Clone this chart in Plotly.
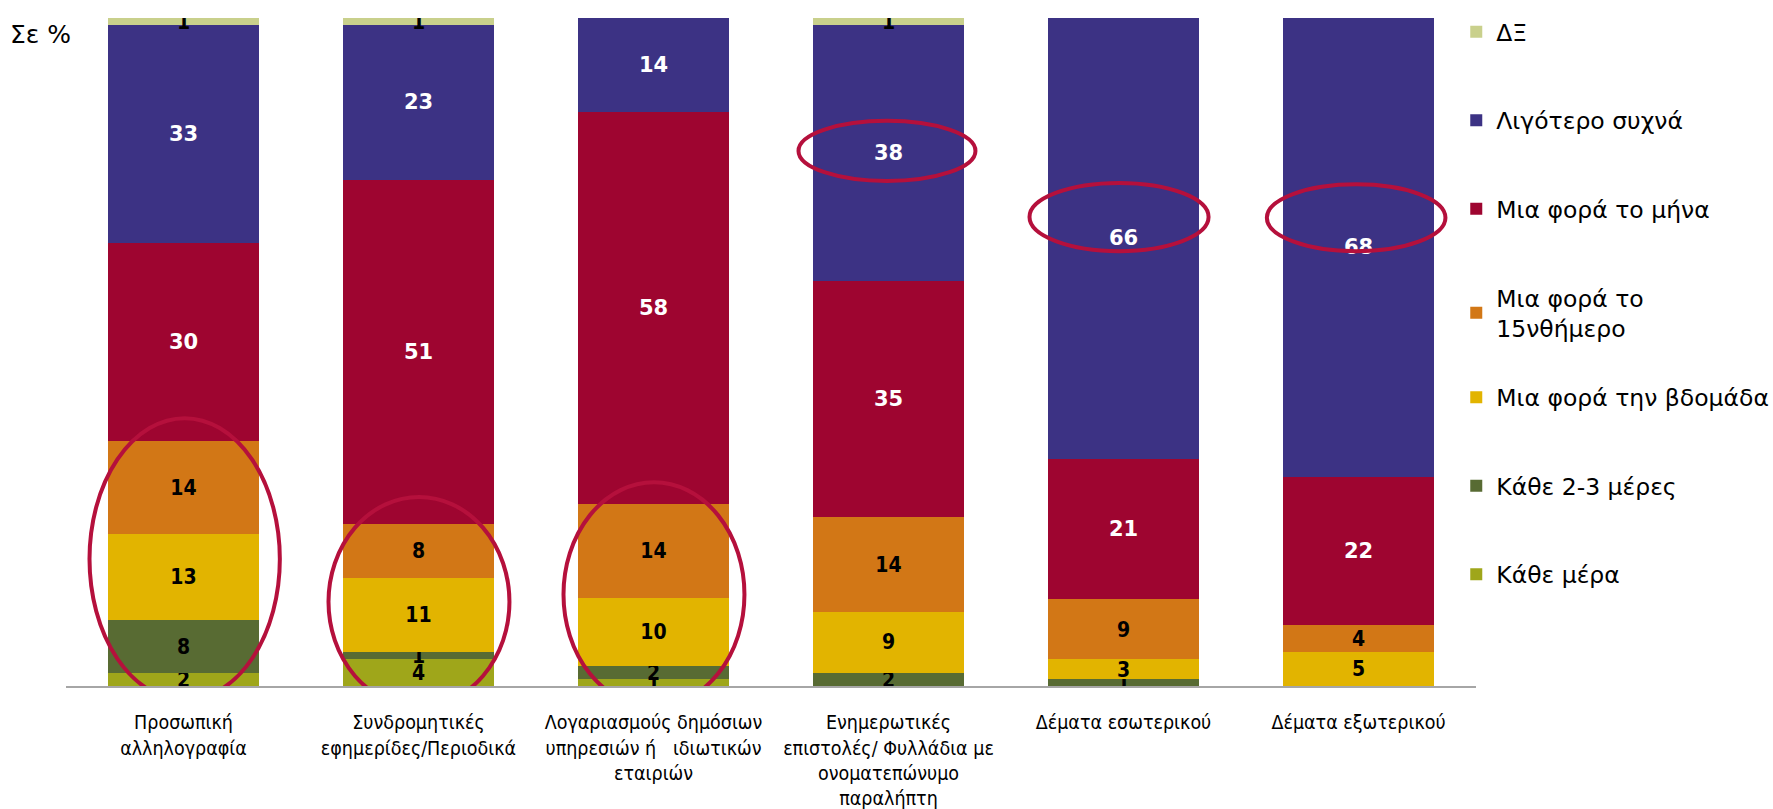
import plotly.graph_objects as go

categories = [
    "Προσωπική<br>αλληλογραφία",
    "Συνδρομητικές<br>εφημερίδες/Περιοδικά",
    "Λογαριασμούς δημόσιων<br>υπηρεσιών ή   ιδιωτικών<br>εταιριών",
    "Ενημερωτικές<br>επιστολές/ Φυλλάδια με<br>ονοματεπώνυμο<br>παραλήπτη",
    "Δέματα εσωτερικού",
    "Δέματα εξωτερικού",
]

kathe_mera = [2, 4, 1, 0, 0, 0]
kathe_2_3 = [8, 1, 2, 2, 1, 0]
evdomada = [13, 11, 10, 9, 3, 5]
dekapenthimero = [14, 8, 14, 14, 9, 4]
mina = [30, 51, 58, 35, 21, 22]
ligotero = [33, 23, 14, 38, 66, 68]
dx = [1, 1, 0, 1, 0, 0]

series = [
    ("Κάθε μέρα", kathe_mera, "#9FA61A", "black", "legend2"),
    ("Κάθε 2-3 μέρες", kathe_2_3, "#586B33", "black", "legend2"),
    ("Μια φορά την βδομάδα", evdomada, "#E2B400", "black", "legend2"),
    ("Μια φορά το<br>15νθήμερο", dekapenthimero, "#D27716", "black", "legend"),
    ("Μια φορά το μήνα", mina, "#9E0530", "white", "legend"),
    ("Λιγότερο συχνά", ligotero, "#3C3284", "white", "legend"),
    ("ΔΞ", dx, "#C9D08C", "black", "legend"),
]

NARROW = "Liberation Sans Narrow, DejaVu Sans Condensed, Arial Narrow, sans-serif"

fig = go.Figure()
n = len(series)
for i, (name, vals, color, tcol, leg) in enumerate(series):
    texts = [str(v) if v > 0 else "" for v in vals]
    if tcol == "white":
        tfont = dict(family="DejaVu Sans, sans-serif", size=21, color=tcol, weight="bold")
    else:
        tfont = dict(family=NARROW, size=23, color=tcol, weight="bold")
    fig.add_trace(go.Bar(
        x=categories, y=vals, name=name,
        marker=dict(color=color, line=dict(width=0)),
        text=texts, textposition="inside", insidetextanchor="middle",
        textangle=0, constraintext="none",
        textfont=tfont, legendgroup=f"g{i}", legendrank=n - i, legend=leg,
    ))

# highlight ellipses (category index, x offsets, y range in %)
ell_color = "#B5103C"
ellipses = [
    (0, -0.40, 0.41, -2.1, 40.1),
    (1, -0.383, 0.387, -3.1, 28.3),
    (2, -0.383, 0.387, -3.1, 30.5),
    (3, -0.383, 0.37, 75.6, 84.6),
    (4, -0.40, 0.362, 65.1, 75.3),
    (5, -0.39, 0.37, 65.1, 75.1),
]
for idx, dx0, dx1, y0, y1 in ellipses:
    fig.add_shape(type="circle", xref="x", yref="y",
                  x0=idx + dx0, x1=idx + dx1, y0=y0, y1=y1,
                  line=dict(color=ell_color, width=4), layer="above")

fig.add_annotation(text="Σε %", xref="paper", yref="paper", x=-0.041, y=0.976,
                   xanchor="left", yanchor="middle", showarrow=False,
                   font=dict(family="DejaVu Sans, sans-serif", size=25, color="black"))

legend_common = dict(
    xanchor="left", yanchor="top",
    traceorder="grouped", tracegroupgap=55, maxheight=800,
    font=dict(family="DejaVu Sans, sans-serif", size=23.5, color="black"),
    bgcolor="rgba(0,0,0,0)",
)

fig.update_layout(
    barmode="stack", barnorm="percent", bargap=0.355,
    width=1773, height=809,
    margin=dict(l=66, r=297, t=18, b=123, autoexpand=False),
    paper_bgcolor="white", plot_bgcolor="white",
    uniformtext=dict(mode="show", minsize=21),
    showlegend=True,
    legend=dict(x=0.986, y=1.012, **legend_common),
    legend2=dict(x=0.986, y=0.465, **legend_common),
    xaxis=dict(
        type="category", showline=True, linecolor="#A6A6A6", linewidth=2,
        ticks="", showgrid=False, ticklabelstandoff=18, automargin=False,
        tickfont=dict(family=NARROW, size=19.5, color="black"),
        range=[-0.5, 5.5],
    ),
    yaxis=dict(visible=False, range=[0, 100], showgrid=False, zeroline=False,
               automargin=False),
)

fig.write_html("out.html")
